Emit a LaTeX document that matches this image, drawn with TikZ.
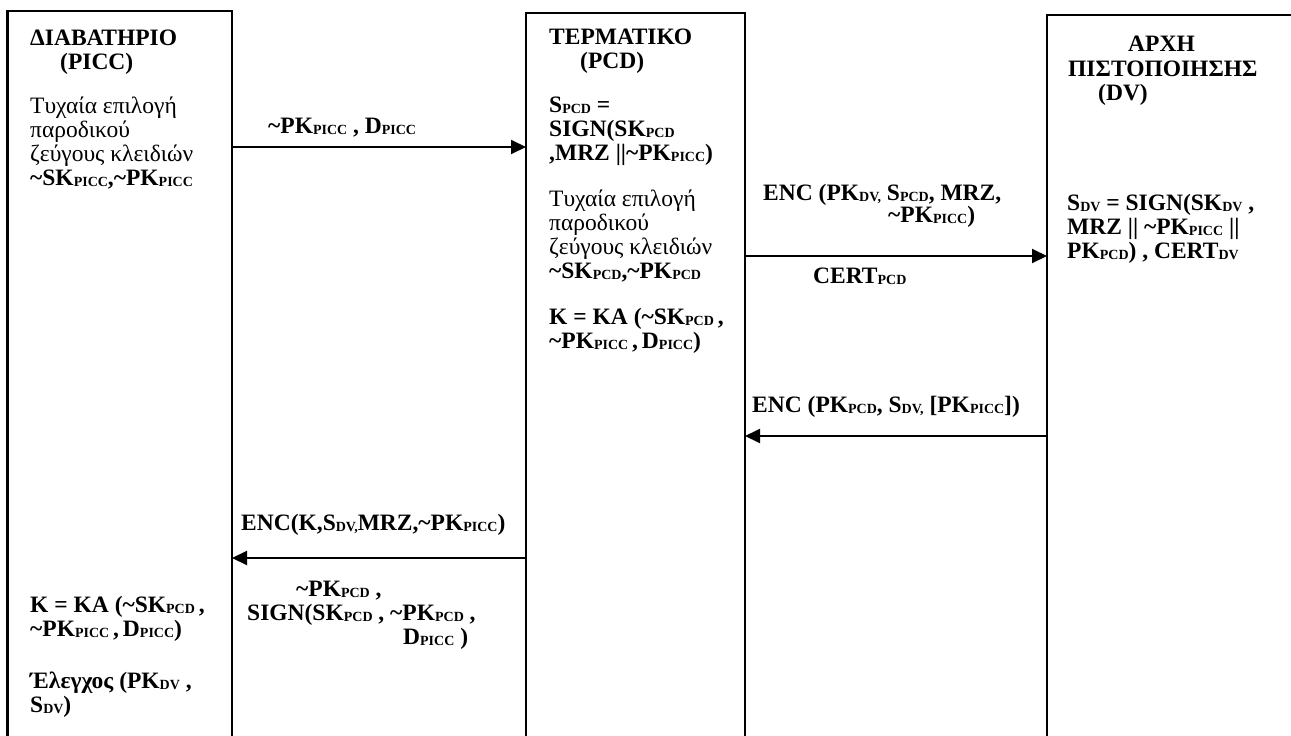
\documentclass[tikz,border=0pt]{standalone}
\usepackage{fontspec}
\setmainfont{Liberation Serif}
\usetikzlibrary{arrows.meta}
% small lowered index letters, as in PK_PICC
\newcommand\sbs[1]{\raisebox{-1.5pt}{\fontsize{14}{14}\selectfont #1}}
\newcommand\tildech{\textasciitilde}
\begin{document}
\begin{tikzpicture}[x=1pt,y=-1pt,
  lane/.style={draw, line width=2.5pt, rectangle, inner sep=0pt, outer sep=0pt, anchor=north west},
  txt/.style={anchor=base west, inner sep=0pt, font=\fontsize{23.5}{24}\selectfont},
  btxt/.style={anchor=base west, inner sep=0pt, font=\fontsize{23.5}{24}\selectfont\bfseries},
  msg/.style={line width=2pt, -{Triangle[length=15pt,width=14pt]}}]
\useasboundingbox (0,0) rectangle (1291,736);
\clip (0,0) rectangle (1291,736);

% the three parties, open towards the bottom
\node[lane, minimum width=224.5pt, minimum height=780pt] (picc) at (7.5,11) {};
\node[lane, minimum width=219pt, minimum height=780pt] (pcd) at (526,13) {};
\node[lane, minimum width=300pt, minimum height=780pt] (dv) at (1047,15) {};

% passport
\node[btxt] (picc1) at (30,45) {ΔΙΑΒΑΤΗΡΙΟ};
\node[btxt] (picc2) at (60,69) {(PICC)};
\node[txt] (picc3) at (30,113) {Τυχαία επιλογή};
\node[txt] (picc4) at (30,137) {παροδικού};
\node[txt] (picc5) at (30,161) {ζεύγους κλειδιών};
\node[btxt] (picc6) at (30,185) {\tildech SK\sbs{PICC},\tildech PK\sbs{PICC}};
\node[btxt] (picc7) at (30,612) {K = KA (\tildech SK\sbs{PCD}\,,};
\node[btxt] (picc8) at (30,636) {\tildech PK\sbs{PICC}\,,\,D\sbs{PICC})};
\node[btxt] (picc9) at (30,688) {Έλεγχος (PK\sbs{DV} ,};
\node[btxt] (picc10) at (30,712) {S\sbs{DV})};

% terminal
\node[btxt] (pcd1) at (549,44) {ΤΕΡΜΑΤΙΚΟ};
\node[btxt] (pcd2) at (580,68) {(PCD)};
\node[btxt] (pcd3) at (549,112) {S\sbs{PCD} =};
\node[btxt] (pcd4) at (549,136) {SIGN(SK\sbs{PCD}};
\node[btxt] (pcd5) at (549,160) {,MRZ \textbar\textbar\tildech PK\sbs{PICC})};
\node[txt] (pcd6) at (549,206) {Τυχαία επιλογή};
\node[txt] (pcd7) at (549,230) {παροδικού};
\node[txt] (pcd8) at (549,254) {ζεύγους κλειδιών};
\node[btxt] (pcd9) at (549,278) {\tildech SK\sbs{PCD},\tildech PK\sbs{PCD}};
\node[btxt] (pcd10) at (549,324) {K = KA (\tildech SK\sbs{PCD}\,,};
\node[btxt] (pcd11) at (549,348) {\tildech PK\sbs{PICC}\,,\,D\sbs{PICC})};

% certification authority
\node[btxt] (dv1) at (1128,51) {ΑΡΧΗ};
\node[btxt] (dv2) at (1068,76) {ΠΙΣΤΟΠΟΙΗΣΗΣ};
\node[btxt] (dv3) at (1098,100) {(DV)};
\node[btxt] (dv4) at (1067,210) {S\sbs{DV} = SIGN(SK\sbs{DV} ,};
\node[btxt] (dv5) at (1067,234) {MRZ \textbar\textbar{} \tildech PK\sbs{PICC} \textbar\textbar};
\node[btxt] (dv6) at (1067,258) {PK\sbs{PCD}) , CERT\sbs{DV}};

% message rows
\coordinate (r1) at (0,147);
\coordinate (r2) at (0,256);
\coordinate (r3) at (0,436);
\coordinate (r4) at (0,558);

\draw[msg] (r1 -| picc.east) -- (r1 -| pcd.west);
\draw[msg] (r2 -| pcd.east) -- (r2 -| dv.west);
\draw[msg] (r3 -| dv.west) -- (r3 -| pcd.east);
\draw[msg] (r4 -| pcd.west) -- (r4 -| picc.east);

\node[btxt] (m1) at (268,133) {\tildech PK\sbs{PICC} , D\sbs{PICC}};
\node[btxt] (m2a) at (763,200) {ENC (PK\sbs{DV,} S\sbs{PCD}, MRZ,};
\node[btxt] (m2b) at (888,222) {\tildech PK\sbs{PICC})};
\node[btxt] (m2c) at (813,283) {CERT\sbs{PCD}};
\node[btxt] (m3) at (752,412) {ENC (PK\sbs{PCD}, S\sbs{DV,} [PK\sbs{PICC}])};
\node[btxt] (m4a) at (241,530) {ENC(K,S\sbs{DV,}MRZ,\tildech PK\sbs{PICC})};
\node[btxt] (m4b) at (296,596) {\tildech PK\sbs{PCD} ,};
\node[btxt] (m4c) at (247,620) {SIGN(SK\sbs{PCD} , \tildech PK\sbs{PCD} ,};
\node[btxt] (m4d) at (403,644) {D\sbs{PICC} )};
\end{tikzpicture}
\end{document}
